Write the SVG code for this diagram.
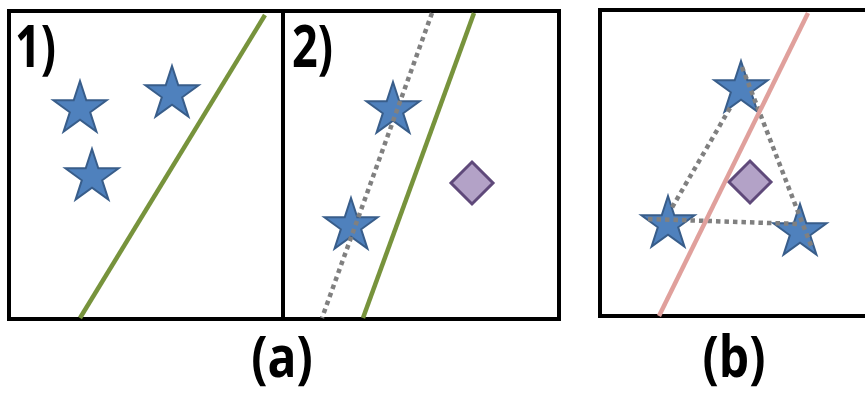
<svg xmlns="http://www.w3.org/2000/svg" xmlns:xlink="http://www.w3.org/1999/xlink" width="865" height="394" viewBox="0 0 865 394">
  <style>
    .frame { fill: #ffffff; stroke: #000000; stroke-width: 4; }
    .star { fill: #4F81BD; stroke: #385D8A; stroke-width: 2; stroke-linejoin: miter; }
    .diamond { fill: #B3A2C7; stroke: #5F497A; stroke-width: 3; }
    .green { stroke: #77933C; stroke-width: 4.5; fill: none; }
    .red { stroke: #E0A09C; stroke-width: 4.5; fill: none; }
    .dots { stroke: #808080; stroke-width: 4.5; stroke-dasharray: 4.5 4; fill: none; }
    .lbl { font-family: "Open Sans", "Liberation Sans", sans-serif; font-weight: bold; fill: #000000; }
  </style>
  <defs>
    <path id="starShape" d="M0,-28 L6.29,-8.66 L26.63,-8.65 L10.18,3.31 L16.46,22.65 L0,10.7 L-16.46,22.65 L-10.18,3.31 L-26.63,-8.65 L-6.29,-8.66 Z"/>
    <path id="diamondShape" d="M0,-21 L21,0 L0,21 L-21,0 Z"/>
  </defs>

  <!-- Panel frames -->
  <g id="frames">
    <rect class="frame" x="9" y="11" width="274" height="308"/>
    <rect class="frame" x="283" y="11" width="276" height="308"/>
    <rect class="frame" x="600" y="10" width="280" height="306"/>
  </g>

  <!-- Panel 1 -->
  <g id="panel1">
    <line class="green" x1="265" y1="15" x2="80" y2="318"/>
    <g id="p1-star1"><use xlink:href="#starShape" class="star" x="80" y="109"/></g>
    <g id="p1-star2"><use xlink:href="#starShape" class="star" x="172" y="94"/></g>
    <g id="p1-star3"><use xlink:href="#starShape" class="star" x="92" y="177"/></g>
    <text class="lbl" font-size="45" transform="translate(15,67) scale(1,1.32)">1)</text>
  </g>

  <!-- Panel 2 -->
  <g id="panel2">
    <line class="green" x1="474" y1="13" x2="363" y2="318"/>
    <g id="p2-star1"><use xlink:href="#starShape" class="star" x="393" y="110"/></g>
    <g id="p2-star2"><use xlink:href="#starShape" class="star" x="351" y="226"/></g>
    <g id="p2-diamond"><use xlink:href="#diamondShape" class="diamond" x="472" y="183"/></g>
    <text class="lbl" font-size="45" transform="translate(292,67) scale(1,1.32)">2)</text>
  </g>

  <!-- Panel 3 -->
  <g id="panel3">
    <g id="p3-star-top"><use xlink:href="#starShape" class="star" x="741" y="89"/></g>
    <g id="p3-star-left"><use xlink:href="#starShape" class="star" x="668" y="224"/></g>
    <g id="p3-star-right"><use xlink:href="#starShape" class="star" x="800" y="232"/></g>
    <g id="p3-diamond"><use xlink:href="#diamondShape" class="diamond" x="750" y="182"/></g>
  </g>

  <!-- Connectors (dotted lines) -->
  <g id="connectors">
    <line class="dots" x1="432" y1="13" x2="322" y2="318"/>
    <line class="dots" x1="742" y1="67" x2="812" y2="248"/>
    <line class="dots" x1="730" y1="108" x2="670" y2="211"/>
    <line class="dots" x1="648" y1="219" x2="800" y2="224"/>
  </g>

  <line class="red" x1="808" y1="13" x2="659" y2="316"/>

  <!-- Captions -->
  <text class="lbl" font-size="48" text-anchor="middle" transform="translate(282,377) scale(1,1.2)">(a)</text>
  <text class="lbl" font-size="48" text-anchor="middle" transform="translate(734,377) scale(1,1.2)">(b)</text>
</svg>
